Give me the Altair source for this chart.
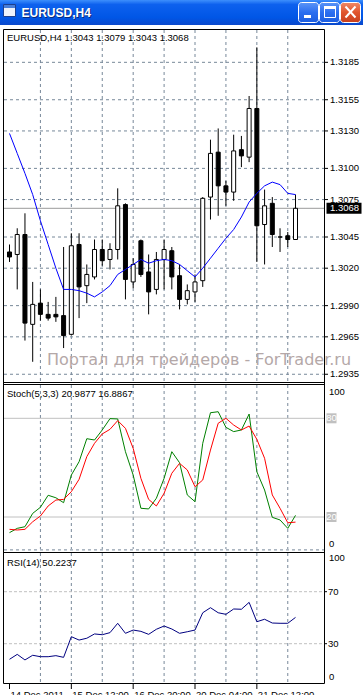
import altair as alt
import pandas as pd

symbol = "EURUSD,H4"
opens  = [1.3033, 1.3031, 1.3047, 1.2975, 1.2992, 1.2983, 1.2983, 1.2982, 1.2967, 1.3039,
          1.3006, 1.3013, 1.3035, 1.3027, 1.3035, 1.3071, 1.3009, 1.3042, 1.3017, 1.3003,
          1.3027, 1.3034, 1.3014, 1.2995, 1.3001, 1.3010, 1.3077, 1.3113, 1.3086, 1.3081,
          1.3115, 1.3109, 1.3148, 1.3055, 1.3072, 1.3045, 1.3046, 1.3043]
highs  = [1.3039, 1.3052, 1.3064, 1.3009, 1.3003, 1.2993, 1.2997, 1.3037, 1.3048, 1.3048,
          1.3023, 1.3043, 1.3043, 1.3040, 1.3084, 1.3072, 1.3028, 1.3043, 1.3031, 1.3033,
          1.3043, 1.3037, 1.3023, 1.3007, 1.3015, 1.3077, 1.3123, 1.3132, 1.3090, 1.3127,
          1.3126, 1.3158, 1.3197, 1.3083, 1.3077, 1.3052, 1.3049, 1.3079]
lows   = [1.3025, 1.3003, 1.2962, 1.2945, 1.2978, 1.2978, 1.2977, 1.2956, 1.2966, 1.2980,
          1.2992, 1.3011, 1.3022, 1.3019, 1.3027, 1.2995, 1.3004, 1.3013, 1.2983, 1.2999,
          1.3003, 1.3003, 1.2987, 1.2991, 1.2993, 1.3005, 1.3059, 1.3062, 1.3070, 1.3074,
          1.3101, 1.3105, 1.3025, 1.3023, 1.3037, 1.3033, 1.3037, 1.3043]
closes = [1.3029, 1.3047, 1.2976, 1.2991, 1.2983, 1.2980, 1.2981, 1.2966, 1.3038, 1.3005,
          1.3015, 1.3035, 1.3026, 1.3035, 1.3070, 1.3011, 1.3023, 1.3015, 1.3001, 1.3027,
          1.3035, 1.3013, 1.2995, 1.3002, 1.3009, 1.3076, 1.3112, 1.3086, 1.3081, 1.3114,
          1.3110, 1.3148, 1.3054, 1.3070, 1.3047, 1.3045, 1.3043, 1.3068]
ma     = [1.3128, 1.3112, 1.3096, 1.3079, 1.3058, 1.3039, 1.3020, 1.3003, 1.3003, 1.3002,
          1.3000, 1.2997, 1.3001, 1.3006, 1.3015, 1.3019, 1.3023, 1.3027, 1.3024, 1.3026,
          1.3027, 1.3026, 1.3023, 1.3018, 1.3013, 1.3020, 1.3028, 1.3036, 1.3044, 1.3051,
          1.3061, 1.3073, 1.3080, 1.3086, 1.3089, 1.3087, 1.3080, 1.3079]
stoch_main   = [10.5, 13.1, 14.1, 22.2, 25.9, 33.2, 31.7, 28.7, 45.5, 53.6,
                67.6, 66.8, 72.9, 79.8, 79.6, 59.7, 45.5, 25.3, 24.9, 31.4,
                43.5, 59.7, 53.0, 33.4, 29.3, 64.8, 83.4, 84.0, 74.5, 71.9,
                72.9, 82.6, 47.5, 36.4, 19.8, 18.2, 13.1, 20.99]
stoch_signal = [12.5, 12.1, 12.5, 17.1, 20.6, 26.7, 30.3, 30.7, 35.4, 42.9,
                56.7, 64.8, 70.5, 73.3, 78.6, 73.9, 61.7, 43.5, 30.7, 26.7,
                34.4, 46.6, 52.6, 48.6, 38.4, 42.5, 60.7, 77.0, 80.0, 75.9,
                72.9, 75.3, 67.2, 55.7, 33.4, 25.3, 16.5, 16.89]
rsi = [18.0, 21.8, 17.5, 21.1, 20.0, 20.0, 20.8, 19.5, 35.4, 32.8,
       34.2, 37.5, 36.9, 38.5, 45.7, 38.0, 40.5, 39.5, 37.2, 41.1,
       43.6, 41.3, 38.0, 39.2, 40.5, 53.8, 57.7, 53.8, 52.6, 56.7,
       56.5, 61.8, 46.9, 48.8, 45.9, 45.7, 45.7, 50.22]

price_ticks = [1.3185, 1.3155, 1.3130, 1.3100, 1.3075, 1.3045, 1.3020, 1.2990, 1.2965, 1.2935]
grid_bars = [4, 8, 12, 16, 20, 24, 28, 32, 36]
date_bars = [0, 8, 16, 24, 32]
date_labels = ["14 Dec 2011", "15 Dec 12:00", "16 Dec 20:00", "20 Dec 04:00", "21 Dec 12:00"]
stoch_levels = [20, 80]
rsi_levels = [30, 70]
stoch_name, stoch_last_main, stoch_last_signal = "Stoch(5,3,3)", 20.9877, 16.8867
rsi_name, rsi_last = "RSI(14)", 50.2237
watermark = "Портал для трейдеров - ForTrader.ru"

bars = list(range(len(opens)))
df = pd.DataFrame({"k": bars, "o": opens, "h": highs, "l": lows, "c": closes,
                   "ma": ma, "sk": stoch_main, "sd": stoch_signal, "rsi": rsi})
df["lo"] = df[["o", "c"]].min(axis=1)
df["hi"] = df[["o", "c"]].max(axis=1)

FONT = "Liberation Sans"
FS = 9.5
GRID = "#778899"
DASH = [3, 3]

XS = alt.Scale(domain=[0, 37], range=[4.5, 300.5], zero=False, nice=False)
PS = alt.Scale(domain=[1.29288, 1.32117], range=[382, 29], zero=False, nice=False)
SS = alt.Scale(domain=[0, 100], range=[549.9, 385.4], zero=False, nice=False)
RS = alt.Scale(domain=[0, 100], range=[682.7, 552.7], zero=False, nice=False)


def X(field="k"):
    return alt.X(f"{field}:Q", scale=XS, axis=None)


def Y(field, scale):
    return alt.Y(f"{field}:Q", scale=scale, axis=None)


def txt(**kw):
    opts = dict(font=FONT, fontSize=FS, color="black")
    opts.update(kw)
    return opts


one = pd.DataFrame({"z": [0]})
base = alt.Chart(df)
L = []

# ---- grids and levels
price_df = pd.DataFrame({"p": price_ticks})
L.append(alt.Chart(price_df).mark_rule(color=GRID, strokeDash=DASH).encode(
    x=alt.value(4), x2=alt.value(324), y=Y("p", PS)))
grid_df = pd.DataFrame({"k": grid_bars})
for y0, y1 in [(30, 382), (385, 549), (553, 683)]:
    L.append(alt.Chart(grid_df).mark_rule(color=GRID, strokeDash=DASH).encode(
        x=X(), y=alt.value(y0), y2=alt.value(y1)))
L.append(alt.Chart(pd.DataFrame({"v": [0]})).mark_rule(color=GRID, strokeDash=DASH).encode(
    x=alt.value(4), x2=alt.value(324), y=Y("v", SS)))
L.append(alt.Chart(pd.DataFrame({"v": stoch_levels})).mark_rule(color="#c0c0c0").encode(
    x=alt.value(4), x2=alt.value(324), y=Y("v", SS)))
L.append(alt.Chart(pd.DataFrame({"v": rsi_levels})).mark_rule(color="#c0c0c0", strokeDash=[3, 2]).encode(
    x=alt.value(4), x2=alt.value(324), y=Y("v", RS)))
bid_df = pd.DataFrame({"p": [closes[-1]]})
L.append(alt.Chart(bid_df).mark_rule(color="#9a9a9a").encode(
    x=alt.value(4), x2=alt.value(324), y=Y("p", PS)))

# ---- candles
L.append(base.mark_rule(color="black").encode(x=X(), y=Y("l", PS), y2=alt.Y2("h:Q")))
L.append(base.transform_filter("datum.c >= datum.o").mark_bar(
    size=4, fill="white", stroke="black", strokeWidth=1).encode(
    x=X(), y=Y("lo", PS), y2=alt.Y2("hi:Q")))
L.append(base.transform_filter("datum.c < datum.o").mark_bar(
    size=4, fill="black", stroke="black", strokeWidth=1).encode(
    x=X(), y=Y("lo", PS), y2=alt.Y2("hi:Q")))
L.append(base.mark_line(color="#0000ff", strokeWidth=1).encode(x=X(), y=Y("ma", PS)))

# ---- indicators
L.append(base.mark_line(color="#008000", strokeWidth=1).encode(x=X(), y=Y("sk", SS)))
L.append(base.mark_line(color="#ff0000", strokeWidth=1).encode(x=X(), y=Y("sd", SS)))
L.append(base.mark_line(color="#000080", strokeWidth=1).encode(x=X(), y=Y("rsi", RS)))

# ---- panel frames
L.append(alt.Chart(one).mark_rect(fillOpacity=0, stroke="black", strokeWidth=1).encode(
    x=alt.value(3.5), x2=alt.value(324.5), y=alt.value(29.5), y2=alt.value(382.5)))
L.append(alt.Chart(one).mark_rule(color="black").encode(
    x=alt.value(3), x2=alt.value(325), y=alt.value(384.5)))
L.append(alt.Chart(one).mark_rect(fillOpacity=0, stroke="black", strokeWidth=1).encode(
    x=alt.value(3.5), x2=alt.value(324.5), y=alt.value(552.5), y2=alt.value(683.5)))
for xv in [3.5, 324.5]:
    L.append(alt.Chart(one).mark_rule(color="black").encode(
        x=alt.value(xv), y=alt.value(382), y2=alt.value(553)))

# ---- right axis
L.append(alt.Chart(price_df).mark_rule(color="black").encode(
    x=alt.value(324.5), x2=alt.value(328), y=Y("p", PS)))
L.append(alt.Chart(price_df).mark_text(align="left", baseline="middle", **txt()).encode(
    x=alt.value(330), y=Y("p", PS), text=alt.Text("p:Q", format=".4f")))
L.append(alt.Chart(bid_df).mark_tick(orient="horizontal", size=35, thickness=11, color="black",
                                     opacity=1).encode(x=alt.value(344), y=Y("p", PS)))
L.append(alt.Chart(bid_df).mark_text(align="left", baseline="middle", **txt(color="white")).encode(
    x=alt.value(330), y=Y("p", PS), text=alt.Text("p:Q", format=".4f")))

# stoch scale labels
L.append(alt.Chart(pd.DataFrame({"v": [100]})).mark_text(align="left", baseline="middle", dy=6.5,
                                                         **txt()).encode(
    x=alt.value(329), y=Y("v", SS), text="v:Q"))
L.append(alt.Chart(pd.DataFrame({"v": [0]})).mark_text(align="left", baseline="middle", dy=-6,
                                                       **txt()).encode(
    x=alt.value(329), y=Y("v", SS), text="v:Q"))
lv_df = pd.DataFrame({"v": stoch_levels})
L.append(alt.Chart(lv_df).mark_tick(orient="horizontal", size=10, thickness=10, color="#c0c0c0",
                                    opacity=1).encode(x=alt.value(331.5), y=Y("v", SS)))
L.append(alt.Chart(lv_df).mark_text(align="center", baseline="middle", **txt(color="white")).encode(
    x=alt.value(331.5), y=Y("v", SS), text="v:Q"))

# rsi scale labels
rl_df = pd.DataFrame({"v": rsi_levels})
L.append(alt.Chart(rl_df).mark_rule(color="black").encode(
    x=alt.value(324.5), x2=alt.value(327), y=Y("v", RS)))
L.append(alt.Chart(rl_df).mark_text(align="left", baseline="middle", **txt()).encode(
    x=alt.value(328), y=Y("v", RS), text="v:Q"))
L.append(alt.Chart(pd.DataFrame({"v": [100]})).mark_text(align="left", baseline="middle", dy=5.5,
                                                         **txt()).encode(
    x=alt.value(329), y=Y("v", RS), text="v:Q"))
L.append(alt.Chart(pd.DataFrame({"v": [0]})).mark_text(align="left", baseline="middle", dy=-6,
                                                       **txt()).encode(
    x=alt.value(329), y=Y("v", RS), text="v:Q"))

# ---- date axis
date_df = pd.DataFrame({"k": date_bars, "label": date_labels})
L.append(alt.Chart(date_df).mark_rule(color="black").encode(
    x=X(), y=alt.value(684), y2=alt.value(689)))
L.append(alt.Chart(date_df).mark_text(align="left", baseline="alphabetic", dx=1, **txt()).encode(
    x=X(), y=alt.value(697.5), text="label:N"))

# ---- legends / watermark
main_legend = f"{symbol} {opens[-1]:.4f} {highs[-1]:.4f} {lows[-1]:.4f} {closes[-1]:.4f}"
stoch_legend = f"{stoch_name} {stoch_last_main:.4f} {stoch_last_signal:.4f}"
rsi_legend = f"{rsi_name} {rsi_last:.4f}"
for t, yv in [(main_legend, 40.5), (stoch_legend, 396.5), (rsi_legend, 566)]:
    L.append(alt.Chart(one).mark_text(align="left", baseline="alphabetic", text=t, **txt()).encode(
        x=alt.value(7), y=alt.value(yv)))
L.append(alt.Chart(one).mark_text(align="center", baseline="alphabetic", font="DejaVu Sans",
                                  fontSize=16, color="#b4a8a8", text=watermark).encode(
    x=alt.value(199), y=alt.value(365)))

# ---- window title bar
title_grad = alt.Gradient(gradient="linear", x1=0, x2=0, y1=0, y2=1, stops=[
    alt.GradientStop(color="#3d8ffc", offset=0),
    alt.GradientStop(color="#0d61ee", offset=0.18),
    alt.GradientStop(color="#0056e6", offset=0.7),
    alt.GradientStop(color="#0a48cc", offset=1)])
L.append(alt.Chart(one).mark_rect(fill=title_grad).encode(
    x=alt.value(0), x2=alt.value(363), y=alt.value(0), y2=alt.value(25)))
L.append(alt.Chart(one).mark_rect(fill="#eef2fb", stroke="#1c3f8f", strokeWidth=1).encode(
    x=alt.value(3.5), x2=alt.value(15.5), y=alt.value(4.5), y2=alt.value(16.5)))
L.append(alt.Chart(one).mark_rect(fill="#4a7fd8").encode(
    x=alt.value(4), x2=alt.value(15), y=alt.value(5), y2=alt.value(8)))
L.append(alt.Chart(one).mark_text(align="left", baseline="alphabetic", font="Liberation Sans",
                                  fontWeight="bold", fontSize=12, color="#0a2a7a",
                                  text=symbol).encode(x=alt.value(22.5), y=alt.value(18)))
L.append(alt.Chart(one).mark_text(align="left", baseline="alphabetic", font="Liberation Sans",
                                  fontWeight="bold", fontSize=12, color="white",
                                  text=symbol).encode(x=alt.value(21.5), y=alt.value(17)))
btn_grad = alt.Gradient(gradient="linear", x1=0, x2=0, y1=0, y2=1, stops=[
    alt.GradientStop(color="#5b95f7", offset=0),
    alt.GradientStop(color="#2a6ef0", offset=0.5),
    alt.GradientStop(color="#1c5de0", offset=1)])
close_grad = alt.Gradient(gradient="linear", x1=0, x2=0, y1=0, y2=1, stops=[
    alt.GradientStop(color="#f08a68", offset=0),
    alt.GradientStop(color="#e0542c", offset=0.5),
    alt.GradientStop(color="#c8401e", offset=1)])
for x0, grad in [(298.5, btn_grad), (319.5, btn_grad), (340.5, close_grad)]:
    L.append(alt.Chart(one).mark_rect(fill=grad, stroke="white", strokeWidth=1, cornerRadius=3).encode(
        x=alt.value(x0), x2=alt.value(x0 + 20), y=alt.value(2.5), y2=alt.value(22.5)))
L.append(alt.Chart(one).mark_rect(fill="white").encode(
    x=alt.value(304), x2=alt.value(311), y=alt.value(15), y2=alt.value(18)))
L.append(alt.Chart(one).mark_rect(fillOpacity=0, stroke="white", strokeWidth=1).encode(
    x=alt.value(324.5), x2=alt.value(335.5), y=alt.value(6.5), y2=alt.value(17.5)))
L.append(alt.Chart(one).mark_rect(fill="white").encode(
    x=alt.value(324), x2=alt.value(336), y=alt.value(6), y2=alt.value(9)))
for (a, b, c2, d) in [(345.5, 6.5, 355.5, 17.5), (355.5, 6.5, 345.5, 17.5)]:
    L.append(alt.Chart(one).mark_rule(color="white", strokeWidth=2).encode(
        x=alt.value(a), y=alt.value(b), x2=alt.value(c2), y2=alt.value(d)))

chart = alt.layer(*L).resolve_scale(y="independent").properties(
    width=363, height=695, padding=0, background="white",
    autosize=alt.AutoSizeParams(type="none")
).configure_view(stroke=None)

chart.save("out.html", embed_options={"renderer": "svg", "actions": False})
